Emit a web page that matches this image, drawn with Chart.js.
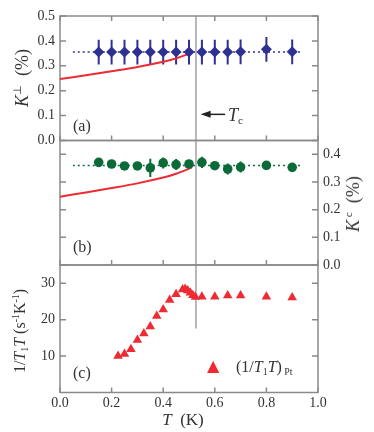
<!DOCTYPE html>
<html lang="en">
<head>
<meta charset="UTF-8">
<title>Knight shift and 1/T1T vs T</title>
<script src="https://cdn.jsdelivr.net/npm/chart.js"></script>
<style>
    body {
        margin: 0;
        background: #fff;
        font-family: 'Liberation Serif', serif;
        color: #333;
    }

    #wrap {
        position: relative;
        width: 374px;
        height: 432px;
    }

    canvas {
        position: absolute;
        left: 0;
        top: 0;
    }

    .lbl {
        position: absolute;
        white-space: nowrap;
        font-size: 16px;
        line-height: 1;
        color: #333;
    }

    .rot {
        transform: translate(-50%, -50%) rotate(-90deg);
    }

    .mid {
        transform: translate(0, -50%);
    }

    .sup {
        font-size: 0.62em;
        position: relative;
        top: -0.6em;
    }

    .sub {
        font-size: 0.62em;
        position: relative;
        top: 0.3em;
    }
</style>
</head>

<body>
<div id="wrap">
    <canvas id="panelA" width="374" height="432"></canvas>
    <canvas id="panelB" width="374" height="432"></canvas>
    <canvas id="panelC" width="374" height="432"></canvas>

    <div class="lbl rot" style="left:22px;top:78px;font-size:18px"><i>K</i><span class="sup">⊥</span>&nbsp;&nbsp;(%)</div>
    <div class="lbl rot" style="left:353px;top:204px;font-size:18px"><i>K</i><span class="sup">&nbsp;c</span>&nbsp;&nbsp;(%)</div>
    <div class="lbl rot" style="left:20px;top:331px">1/<i>T</i><span class="sub">1</span><i>T</i>&nbsp;(s<span class="sup">-1</span>K<span class="sup">-1</span>)</div>
    <div class="lbl" style="left:183px;top:419px;transform:translate(-50%,-50%);font-size:17px"><i>T</i>&nbsp;&nbsp;(K)</div>

    <div class="lbl mid" style="left:73px;top:126px">(a)</div>
    <div class="lbl mid" style="left:73px;top:247px">(b)</div>
    <div class="lbl mid" style="left:73px;top:373px">(c)</div>

    <div class="lbl mid" style="left:228px;top:115px;font-size:18px"><i>T</i><span class="sub">c</span></div>

    <div class="lbl mid" style="left:207px;top:366px;color:#ee2a32;font-family:'DejaVu Sans';font-size:16px">▲</div>
    <div class="lbl mid" style="left:236px;top:367px">(1/<i>T</i><span class="sub">1</span><i>T</i>)<span class="sub">&nbsp;Pt</span></div>
</div>

<script>
    // temperatures (K) and Knight shift K_perp (%), panel (a)
    const tempsA = [0.15, 0.2, 0.25, 0.3, 0.35, 0.4, 0.45, 0.5, 0.55, 0.6, 0.65, 0.7, 0.8, 0.9];
    const kPerp = [0.355, 0.355, 0.355, 0.355, 0.355, 0.355, 0.355, 0.355, 0.355, 0.355, 0.355, 0.356, 0.366, 0.356];
    const kPerpErr = [0.05, 0.05, 0.05, 0.05, 0.05, 0.05, 0.05, 0.05, 0.05, 0.05, 0.05, 0.05, 0.05, 0.05];

    // Knight shift K_c (%), panel (b)
    const tempsB = [0.15, 0.2, 0.25, 0.3, 0.35, 0.4, 0.45, 0.5, 0.55, 0.6, 0.65, 0.7, 0.8, 0.9];
    const kC = [0.371, 0.365, 0.358, 0.358, 0.351, 0.369, 0.363, 0.365, 0.371, 0.359, 0.347, 0.354, 0.36, 0.353];
    const kCErr = [0.008, 0.008, 0.008, 0.008, 0.033, 0.02, 0.02, 0.01, 0.02, 0.015, 0.02, 0.02, 0.008, 0.008];

    // 1/T1T (s^-1 K^-1), panel (c)
    const tempsC = [0.225, 0.25, 0.275, 0.3, 0.325, 0.35, 0.375, 0.4, 0.425, 0.45, 0.475, 0.485, 0.495, 0.505, 0.515, 0.525, 0.55, 0.6, 0.65, 0.7, 0.8, 0.9];
    const relax = [10.0, 10.6, 11.9, 14.4, 16.2, 18.1, 21.0, 22.8, 25.4, 27.0, 28.3, 28.4, 28.0, 27.4, 26.7, 26.2, 26.3, 26.3, 26.6, 26.6, 26.3, 26.1];

    // calculated curve (red) shown in (a) and (b)
    const calcT = [0, 0.1, 0.2, 0.3, 0.4, 0.45, 0.51];
    const calcK = [0.247, 0.262, 0.278, 0.295, 0.316, 0.33, 0.352];

    const tc = 0.527;
    const fitPerp = 0.355;
    const fitC = 0.36;
    const fitRange = [0.05, 0.94];
    const tcLineLowC = 17.6;
    const arrowFrom = 0.64, arrowTo = 0.545, arrowK = 0.105;

    const xTicks = [0, 0.2, 0.4, 0.6, 0.8, 1.0];
    const yTicksA = [0, 0.1, 0.2, 0.3, 0.4, 0.5];
    const yTicksB = [0, 0.1, 0.2, 0.3, 0.4];
    const yTicksC = [10, 20, 30];

    const BLUE = '#2e3192';
    const GREEN = '#0b6a38';
    const RED = '#ee2a32';
    const GREY = '#8a8a8a';
    const tickFont = { family: "'Liberation Serif', serif", size: 14 };

    const pts = (xs, ys) => xs.map((x, i) => ({ x: x, y: ys[i] }));

    // frame + inward tick marks
    const framePlugin = {
        id: 'frame',
        beforeDatasetsDraw(chart, args, opts) {
            const { ctx, chartArea: a, scales } = chart;
            ctx.save();
            ctx.strokeStyle = GREY;
            ctx.lineWidth = 1.5;
            ctx.strokeRect(a.left, a.top, a.right - a.left, a.bottom - a.top);
            ctx.beginPath();
            scales.x.ticks.forEach(t => {
                const px = scales.x.getPixelForValue(t.value);
                if (opts.top) { ctx.moveTo(px, a.top); ctx.lineTo(px, a.top + 5); }
                if (opts.bottom) { ctx.moveTo(px, a.bottom); ctx.lineTo(px, a.bottom - 5); }
            });
            scales.y.ticks.forEach(t => {
                const py = scales.y.getPixelForValue(t.value);
                ctx.moveTo(a.left, py); ctx.lineTo(a.left + 6, py);
                ctx.moveTo(a.right, py); ctx.lineTo(a.right - 6, py);
            });
            ctx.stroke();
            ctx.restore();
        }
    };

    // vertical error bars from dataset.errors
    const errorBarPlugin = {
        id: 'errorBars',
        beforeDatasetsDraw(chart) {
            const { ctx, scales } = chart;
            chart.data.datasets.forEach(ds => {
                if (!ds.errors) return;
                ctx.save();
                ctx.strokeStyle = ds.backgroundColor;
                ctx.lineWidth = 2;
                ctx.beginPath();
                ds.data.forEach((p, i) => {
                    const px = scales.x.getPixelForValue(p.x);
                    ctx.moveTo(px, scales.y.getPixelForValue(p.y - ds.errors[i]));
                    ctx.lineTo(px, scales.y.getPixelForValue(p.y + ds.errors[i]));
                });
                ctx.stroke();
                ctx.restore();
            });
        }
    };

    // arrow pointing at Tc line in panel (a)
    const arrowPlugin = {
        id: 'tcArrow',
        afterDatasetsDraw(chart, args, opts) {
            if (!opts.show) return;
            const { ctx, scales } = chart;
            const x0 = scales.x.getPixelForValue(arrowFrom);
            const x1 = scales.x.getPixelForValue(arrowTo);
            const y = scales.y.getPixelForValue(arrowK);
            ctx.save();
            ctx.strokeStyle = '#222';
            ctx.fillStyle = '#222';
            ctx.lineWidth = 1.5;
            ctx.beginPath();
            ctx.moveTo(x0, y);
            ctx.lineTo(x1 + 6, y);
            ctx.stroke();
            ctx.beginPath();
            ctx.moveTo(x1, y);
            ctx.lineTo(x1 + 10, y - 3.5);
            ctx.lineTo(x1 + 10, y + 3.5);
            ctx.closePath();
            ctx.fill();
            ctx.restore();
        }
    };

    function fixedTicks(list) {
        return s => { s.ticks = list.map(v => ({ value: v })); };
    }

    function makePanel(id, cfg) {
        return new Chart(document.getElementById(id), {
            type: 'scatter',
            data: { datasets: cfg.datasets },
            options: {
                responsive: false,
                animation: false,
                layout: { padding: cfg.padding },
                plugins: {
                    legend: { display: false },
                    tooltip: { enabled: false },
                    frame: { top: cfg.topTicks, bottom: true },
                    tcArrow: { show: !!cfg.arrow }
                },
                scales: {
                    x: {
                        type: 'linear',
                        min: 0,
                        max: 1,
                        position: 'bottom',
                        afterBuildTicks: fixedTicks(xTicks),
                        ticks: {
                            display: !!cfg.xLabels,
                            font: tickFont,
                            color: '#333',
                            padding: 2,
                            maxRotation: 0,
                            callback: v => v.toFixed(1)
                        },
                        grid: { display: false, drawTicks: false },
                        border: { display: false },
                        afterFit: s => { s.height = cfg.xHeight; }
                    },
                    y: {
                        type: 'linear',
                        min: cfg.yMin,
                        max: cfg.yMax,
                        position: cfg.yPos,
                        afterBuildTicks: fixedTicks(cfg.yTicks),
                        ticks: {
                            font: tickFont,
                            color: '#333',
                            padding: 5,
                            callback: cfg.yFormat
                        },
                        grid: { display: false, drawTicks: false },
                        border: { display: false },
                        afterFit: s => { s.width = cfg.yWidth; }
                    }
                }
            },
            plugins: [framePlugin, errorBarPlugin, arrowPlugin]
        });
    }

    const lineDs = (data, color, width, dash) => ({
        data: data,
        showLine: true,
        borderColor: color,
        borderWidth: width,
        borderDash: dash || [],
        pointRadius: 0,
        tension: 0.3
    });

    // panel (a)
    makePanel('panelA', {
        padding: { left: 0, right: 56, top: 16, bottom: 291.5 },
        yMin: 0, yMax: 0.5, yPos: 'left', yWidth: 60, yTicks: yTicksA,
        yFormat: v => v.toFixed(1),
        xHeight: 0, topTicks: true, arrow: true,
        datasets: [
            {
                data: pts(tempsA, kPerp),
                errors: kPerpErr,
                pointStyle: 'rectRot',
                pointRadius: 5.5,
                backgroundColor: BLUE,
                borderColor: BLUE,
                borderWidth: 0
            },
            lineDs(pts(calcT, calcK), RED, 2),
            lineDs(pts(fitRange, [fitPerp, fitPerp]), BLUE, 1.5, [2, 3]),
            lineDs([{ x: tc, y: 0 }, { x: tc, y: 0.5 }], GREY, 1.2)
        ]
    });

    // panel (b)
    makePanel('panelB', {
        padding: { left: 60, right: 0, top: 140.5, bottom: 167 },
        yMin: 0, yMax: 0.45, yPos: 'right', yWidth: 56, yTicks: yTicksB,
        yFormat: v => v.toFixed(1),
        xHeight: 0, topTicks: false,
        datasets: [
            {
                data: pts(tempsB, kC),
                errors: kCErr,
                pointStyle: 'circle',
                pointRadius: 4.8,
                backgroundColor: GREEN,
                borderColor: GREEN,
                borderWidth: 0
            },
            lineDs(pts(calcT, calcK), RED, 2),
            lineDs(pts(fitRange, [fitC, fitC]), GREEN, 1.5, [2, 3]),
            lineDs([{ x: tc, y: 0 }, { x: tc, y: 0.45 }], GREY, 1.2)
        ]
    });

    // panel (c)
    makePanel('panelC', {
        padding: { left: 0, right: 56, top: 265, bottom: 0 },
        yMin: 0, yMax: 35, yPos: 'left', yWidth: 60, yTicks: yTicksC,
        yFormat: v => String(v),
        xHeight: 39.5, xLabels: true, topTicks: false,
        datasets: [
            {
                data: pts(tempsC, relax),
                pointStyle: 'triangle',
                pointRadius: 5.5,
                backgroundColor: RED,
                borderColor: RED,
                borderWidth: 0
            },
            lineDs([{ x: tc, y: tcLineLowC }, { x: tc, y: 35 }], GREY, 1.2)
        ]
    });
</script>
</body>
</html>
